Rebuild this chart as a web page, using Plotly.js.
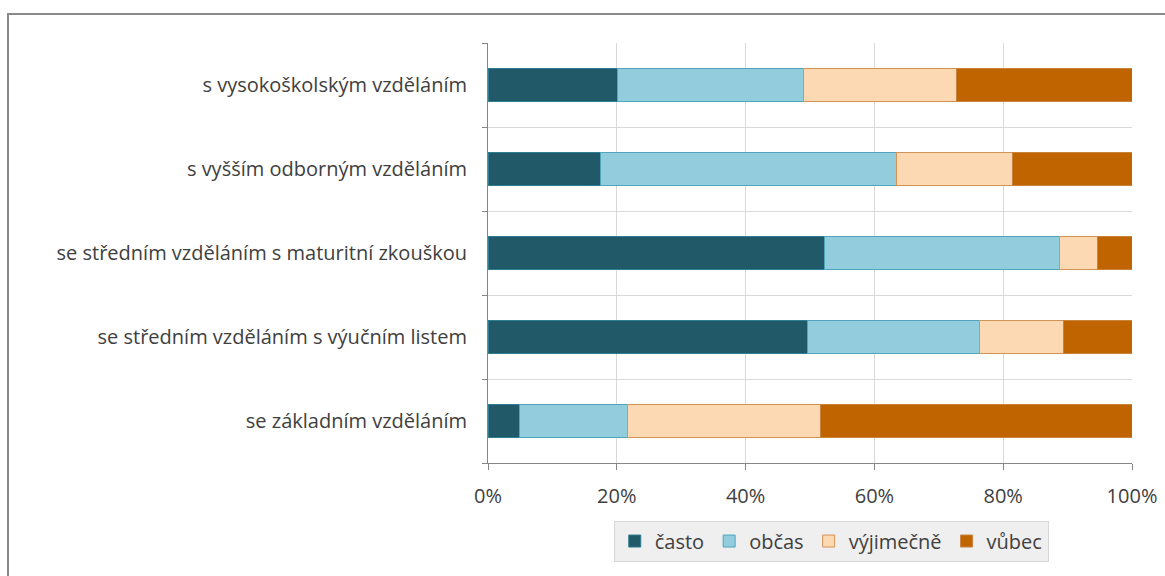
<!DOCTYPE html>
<html>
<head>
<meta charset="utf-8">
<script src="https://cdn.plot.ly/plotly-3.0.1.min.js"></script>
<style>
  html, body { margin: 0; padding: 0; background: #fff; }
  #chart { width: 1165px; height: 576px; position: absolute; left: 0; top: 0; }
  #frame { position: absolute; left: 7px; top: 13px; width: 1200px; height: 600px;
           border-top: 2px solid #8a8a8a; border-left: 2px solid #8a8a8a; pointer-events: none; }
</style>
</head>
<body>
<div id="chart"></div>
<div id="frame"></div>
<script>
const categories = [
  "s vysokoškolským vzděláním",
  "s vyšším odborným vzděláním",
  "se středním vzděláním s maturitní zkouškou",
  "se středním vzděláním s výučním listem",
  "se základním vzděláním"
];
const seriesNames = ["často", "občas", "výjimečně", "vůbec"];
const casto     = [20.1, 17.5, 52.2, 49.6, 4.9];
const obcas     = [28.9, 46.0, 36.6, 26.7, 16.8];
const vyjimecne = [23.8, 17.9, 5.8, 13.1, 30.0];
const vubec     = [27.2, 18.6, 5.4, 10.6, 48.3];
const xTickVals = [0, 20, 40, 60, 80, 100];
const xTickText = ["0%", "20%", "40%", "60%", "80%", "100%"];

const fills = ["#215968", "#93cddd", "#fdd9b3", "#c06400"];
const lines = ["#2f7d91", "#4fa6bd", "#d29355", "#c8833f"];
const values = [casto, obcas, vyjimecne, vubec];

const traces = values.map((v, i) => ({
  type: "bar",
  orientation: "h",
  name: seriesNames[i],
  x: v,
  y: categories,
  width: 0.4,
  marker: { color: fills[i], line: { color: lines[i], width: 1 } },
  hoverinfo: "x+y+name"
}));

const font = { family: "Open Sans, sans-serif", size: 20, color: "#404040" };

const layout = {
  width: 1165, height: 576,
  margin: { l: 488, r: 33, t: 43, b: 113 },
  paper_bgcolor: "rgba(0,0,0,0)",
  plot_bgcolor: "#fff",
  barmode: "stack",
  bargap: 0.6,
  font: font,
  showlegend: true,
  legend: {
    orientation: "h",
    x: 0.533, xanchor: "center",
    y: -0.137, yanchor: "top",
    bgcolor: "#efefef",
    bordercolor: "#d6d6d6",
    borderwidth: 1,
    font: font,
    traceorder: "normal"
  },
  xaxis: {
    range: [0, 100],
    tickvals: xTickVals,
    ticktext: xTickText,
    showgrid: true,
    gridcolor: "#d9d9d9",
    gridwidth: 1,
    showline: true,
    linecolor: "#868686",
    linewidth: 1,
    ticks: "outside",
    ticklen: 6,
    tickcolor: "#868686",
    ticklabelstandoff: 9,
    zeroline: false,
    fixedrange: true
  },
  yaxis: {
    type: "category",
    categoryorder: "array",
    categoryarray: categories.slice().reverse(),
    tickson: "boundaries",
    showgrid: true,
    gridcolor: "#d9d9d9",
    gridwidth: 1,
    showline: true,
    linecolor: "#868686",
    linewidth: 1,
    ticks: "outside",
    ticklen: 5,
    tickcolor: "#868686",
    ticklabelstandoff: 16,
    zeroline: false,
    fixedrange: true
  }
};

Plotly.newPlot("chart", traces, layout, { displayModeBar: false, staticPlot: true });
</script>
</body>
</html>
